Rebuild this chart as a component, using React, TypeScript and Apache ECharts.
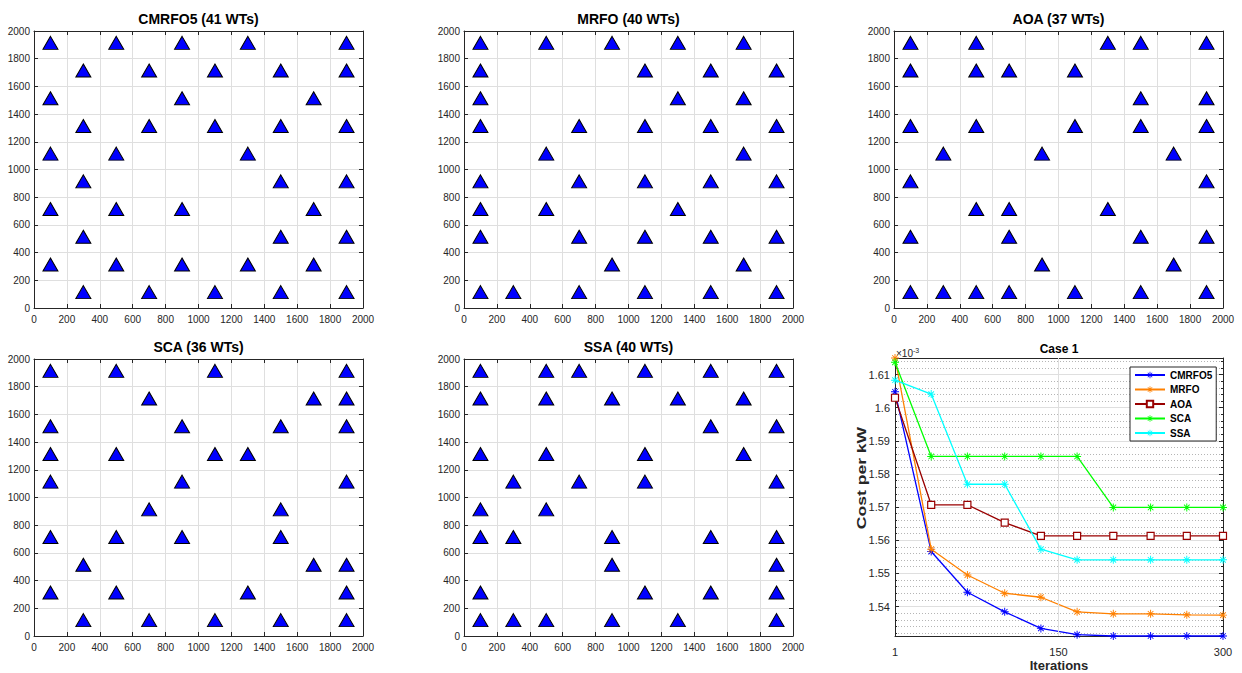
import React, { useEffect, useRef } from "react";
import * as echarts from "echarts";

// ---------- DATA ----------
const layoutTitles = ["CMRFO5 (41 WTs)", "MRFO (40 WTs)", "AOA (37 WTs)", "SCA (36 WTs)", "SSA (40 WTs)"];

const cmrfo5Layout: number[][] = [
  [100, 1900], [500, 1900], [900, 1900], [1300, 1900], [1900, 1900],
  [300, 1700], [700, 1700], [1100, 1700], [1500, 1700], [1900, 1700],
  [100, 1500], [900, 1500], [1700, 1500],
  [300, 1300], [700, 1300], [1100, 1300], [1500, 1300], [1900, 1300],
  [100, 1100], [500, 1100], [1300, 1100],
  [300, 900], [1500, 900], [1900, 900],
  [100, 700], [500, 700], [900, 700], [1700, 700],
  [300, 500], [1500, 500], [1900, 500],
  [100, 300], [500, 300], [900, 300], [1300, 300], [1700, 300],
  [300, 100], [700, 100], [1100, 100], [1500, 100], [1900, 100],
];

const mrfoLayout: number[][] = [
  [100, 1900], [500, 1900], [900, 1900], [1300, 1900], [1700, 1900],
  [100, 1700], [1100, 1700], [1500, 1700], [1900, 1700],
  [100, 1500], [1300, 1500], [1700, 1500],
  [100, 1300], [700, 1300], [1100, 1300], [1500, 1300], [1900, 1300],
  [500, 1100], [1700, 1100],
  [100, 900], [700, 900], [1100, 900], [1500, 900], [1900, 900],
  [100, 700], [500, 700], [1300, 700],
  [100, 500], [700, 500], [1100, 500], [1500, 500], [1900, 500],
  [900, 300], [1700, 300],
  [100, 100], [300, 100], [700, 100], [1100, 100], [1500, 100], [1900, 100],
];

const aoaLayout: number[][] = [
  [100, 1900], [500, 1900], [1300, 1900], [1500, 1900], [1900, 1900],
  [100, 1700], [500, 1700], [700, 1700], [1100, 1700],
  [1500, 1500], [1900, 1500],
  [100, 1300], [500, 1300], [1100, 1300], [1500, 1300], [1900, 1300],
  [300, 1100], [900, 1100], [1700, 1100],
  [100, 900], [1900, 900],
  [500, 700], [700, 700], [1300, 700],
  [100, 500], [700, 500], [1500, 500], [1900, 500],
  [900, 300], [1700, 300],
  [100, 100], [300, 100], [500, 100], [700, 100], [1100, 100], [1500, 100], [1900, 100],
];

const scaLayout: number[][] = [
  [100, 1900], [500, 1900], [1100, 1900], [1900, 1900],
  [700, 1700], [1700, 1700], [1900, 1700],
  [100, 1500], [900, 1500], [1500, 1500], [1900, 1500],
  [100, 1300], [500, 1300], [1100, 1300], [1300, 1300],
  [100, 1100], [900, 1100], [1900, 1100],
  [700, 900], [1500, 900],
  [100, 700], [500, 700], [900, 700], [1500, 700],
  [300, 500], [1700, 500], [1900, 500],
  [100, 300], [500, 300], [1300, 300], [1900, 300],
  [300, 100], [700, 100], [1100, 100], [1500, 100], [1900, 100],
];

const ssaLayout: number[][] = [
  [100, 1900], [500, 1900], [700, 1900], [1100, 1900], [1500, 1900], [1900, 1900],
  [100, 1700], [500, 1700], [900, 1700], [1300, 1700], [1700, 1700],
  [1500, 1500], [1900, 1500],
  [100, 1300], [500, 1300], [1100, 1300], [1700, 1300],
  [300, 1100], [700, 1100], [1100, 1100], [1900, 1100],
  [100, 900], [500, 900],
  [100, 700], [300, 700], [900, 700], [1500, 700], [1900, 700],
  [900, 500], [1900, 500],
  [100, 300], [1100, 300], [1500, 300], [1900, 300],
  [100, 100], [300, 100], [500, 100], [900, 100], [1300, 100], [1900, 100],
];

const layouts = [cmrfo5Layout, mrfoLayout, aoaLayout, scaLayout, ssaLayout];

const iterations = [1, 34, 67, 101, 134, 167, 200, 234, 267, 300];
const costCMRFO5 = [1.6048, 1.5566, 1.5443, 1.5384, 1.5334, 1.5315, 1.5311, 1.5311, 1.5311, 1.5311];
const costMRFO = [1.615, 1.5573, 1.5495, 1.544, 1.5428, 1.5384, 1.5378, 1.5378, 1.5375, 1.5374];
const costAOA = [1.603, 1.5707, 1.5707, 1.5653, 1.5613, 1.5613, 1.5613, 1.5613, 1.5613, 1.5613];
const costSCA = [1.6137, 1.5853, 1.5853, 1.5853, 1.5853, 1.5853, 1.5699, 1.5699, 1.5699, 1.5699];
const costSSA = [1.6083, 1.6041, 1.5769, 1.5769, 1.5573, 1.5541, 1.5541, 1.5541, 1.5541, 1.5541];
const algorithmNames = ["CMRFO5", "MRFO", "AOA", "SCA", "SSA"];
const iterationTicks = [1, 150, 300];

// ---------- STYLE / LAYOUT ----------
const FONT = "'Liberation Sans', Arial, Helvetica, sans-serif";
const AX = "#262626";
const GRIDC = "#dfdfdf";
const panelPos = [
  { left: 34, top: 31 },
  { left: 464, top: 31 },
  { left: 894, top: 31 },
  { left: 34, top: 359 },
  { left: 464, top: 359 },
];
const PW = 329;
const PH = 277;
const linePos = { left: 895, top: 358, width: 328, height: 278 };
const lineColors = ["#0000ff", "#ff8000", "#990000", "#00ff00", "#00ffff"];
const ASTERISK =
  "path://M0,4.4L10,4.4L10,5.6L0,5.6Z M4.4,0L5.6,0L5.6,10L4.4,10Z M1.1,1.9L1.9,1.1L8.9,8.1L8.1,8.9Z M8.1,1.1L8.9,1.9L1.9,8.9L1.1,8.1Z";

const plain = (v: number) => String(v);

export default function App() {
  const ref = useRef<HTMLDivElement>(null);
  useEffect(() => {
    if (!ref.current) return;
    const chart = echarts.init(ref.current, null, { renderer: "svg" });

    const grids: any[] = [];
    const xAxes: any[] = [];
    const yAxes: any[] = [];
    const series: any[] = [];
    const graphics: any[] = [];

    const tickStyle = { show: true, inside: true, length: 4, lineStyle: { color: AX, width: 1 } };
    const lineStyleAx = { show: true, onZero: false, lineStyle: { color: AX, width: 1 } };

    layouts.forEach((pts, i) => {
      const p = panelPos[i];
      grids.push({ left: p.left, top: p.top, width: PW, height: PH, containLabel: false });
      const base = { type: "value", gridIndex: i, min: 0, max: 2000, interval: 200 };
      xAxes.push({
        ...base,
        position: "bottom",
        axisLine: lineStyleAx,
        axisTick: tickStyle,
        axisLabel: { color: AX, fontSize: 10, fontFamily: FONT, margin: 6, formatter: plain },
        splitLine: { show: true, lineStyle: { color: GRIDC, width: 1 } },
      });
      xAxes.push({
        ...base,
        position: "top",
        axisLine: lineStyleAx,
        axisTick: tickStyle,
        axisLabel: { show: false },
        splitLine: { show: false },
      });
      yAxes.push({
        ...base,
        position: "left",
        axisLine: lineStyleAx,
        axisTick: tickStyle,
        axisLabel: { color: AX, fontSize: 10, fontFamily: FONT, margin: 4, formatter: plain },
        splitLine: { show: true, lineStyle: { color: GRIDC, width: 1 } },
      });
      yAxes.push({
        ...base,
        position: "right",
        axisLine: lineStyleAx,
        axisTick: tickStyle,
        axisLabel: { show: false },
        splitLine: { show: false },
      });
      series.push({
        type: "scatter",
        xAxisIndex: 2 * i,
        yAxisIndex: 2 * i,
        symbol: "triangle",
        symbolSize: [15, 13],
        symbolOffset: [0, -2],
        itemStyle: { color: "#0000ff", borderColor: "#000000", borderWidth: 1, opacity: 1 },
        data: pts,
        silent: true,
      });
      graphics.push({
        type: "text",
        x: p.left + PW / 2,
        y: p.top - 12,
        style: {
          text: layoutTitles[i],
          fontFamily: FONT,
          fontSize: 14,
          fontWeight: "bold",
          fill: "#000",
          align: "center",
          verticalAlign: "middle",
        },
      });
    });

    // ---- convergence plot ----
    const gi = 5;
    grids.push({ ...linePos, containLabel: false });
    const lx = { type: "value", gridIndex: gi, min: 1, max: 300 };
    xAxes.push({
      ...lx,
      position: "bottom",
      axisLine: lineStyleAx,
      axisTick: { ...tickStyle, customValues: iterationTicks },
      axisLabel: { color: AX, fontSize: 11, fontFamily: FONT, margin: 10, customValues: iterationTicks },
      splitLine: { show: false },
    });
    xAxes.push({
      ...lx,
      position: "top",
      axisLine: lineStyleAx,
      axisTick: { ...tickStyle, customValues: iterationTicks },
      axisLabel: { show: false },
      splitLine: { show: false },
    });
    const ly = { type: "value", gridIndex: gi, min: 1.5311, max: 1.615, splitNumber: 8 };
    yAxes.push({
      ...ly,
      position: "left",
      axisLine: lineStyleAx,
      axisTick: tickStyle,
      minorTick: { show: true, splitNumber: 5, length: 2, lineStyle: { color: AX } },
      axisLabel: { color: AX, fontSize: 11, fontFamily: FONT, margin: 5, showMinLabel: false, showMaxLabel: false },
      splitLine: { show: true, lineStyle: { color: GRIDC, width: 1 } },
      minorSplitLine: { show: true, lineStyle: { color: "#b5b5b5", width: 1, type: [1, 2] } },
    });
    yAxes.push({
      ...ly,
      position: "right",
      axisLine: lineStyleAx,
      axisTick: tickStyle,
      minorTick: { show: true, splitNumber: 5, length: 2, lineStyle: { color: AX } },
      axisLabel: { show: false },
      splitLine: { show: false },
    });

    // grid line at iteration 150 (under the curves)
    series.push({
      type: "line",
      name: "_grid",
      xAxisIndex: 10,
      yAxisIndex: 10,
      data: [],
      z: 1,
      silent: true,
      markLine: {
        silent: true,
        symbol: ["none", "none"],
        label: { show: false },
        lineStyle: { color: GRIDC, width: 1, type: "solid" },
        data: [{ xAxis: iterationTicks[1] }],
      },
    });

    const costs = [costCMRFO5, costMRFO, costAOA, costSCA, costSSA];
    costs.forEach((c, k) => {
      const isAOA = algorithmNames[k] === "AOA";
      series.push({
        type: "line",
        name: algorithmNames[k],
        xAxisIndex: 10,
        yAxisIndex: 10,
        color: lineColors[k],
        data: iterations.map((it, j) => [it, c[j]]),
        symbol: isAOA ? "rect" : ASTERISK,
        symbolSize: isAOA ? 7 : 8,
        showAllSymbol: true,
        lineStyle: { color: lineColors[k], width: 1.3 },
        itemStyle: isAOA
          ? { color: "#ffffff", borderColor: lineColors[k], borderWidth: 1.2 }
          : { color: lineColors[k] },
        z: 3 + k,
        clip: false,
      });
    });

    graphics.push(
      {
        type: "text",
        x: linePos.left + linePos.width / 2,
        y: 349,
        style: { text: "Case 1", fontFamily: FONT, fontSize: 12, fontWeight: "bold", fill: "#000", align: "center", verticalAlign: "middle" },
      },
      {
        type: "text",
        x: linePos.left + linePos.width / 2,
        y: 665,
        style: { text: "Iterations", fontFamily: FONT, fontSize: 13, fontWeight: "bold", fill: "#262626", align: "center", verticalAlign: "middle" },
      },
      {
        type: "text",
        x: 861,
        y: 478,
        rotation: Math.PI / 2,
        scaleX: 1.35,
        style: { text: "Cost per kW", fontFamily: FONT, fontSize: 13, fontWeight: "bold", fill: "#262626", align: "center", verticalAlign: "middle" },
      },
      {
        type: "text",
        x: 896,
        y: 353,
        style: {
          text: "{a|×10}{b|-3}",
          verticalAlign: "middle",
          align: "left",
          rich: {
            a: { fontFamily: FONT, fontSize: 10, fill: AX, color: AX },
            b: { fontFamily: FONT, fontSize: 7, fill: AX, color: AX, verticalAlign: "top", padding: [0, 0, 6, 0] },
          },
        },
      }
    );

    chart.setOption({
      animation: false,
      backgroundColor: "#ffffff",
      grid: grids,
      xAxis: xAxes,
      yAxis: yAxes,
      series,
      graphic: graphics,
      legend: {
        data: algorithmNames,
        orient: "vertical",
        left: 1130,
        top: 367,
        itemWidth: 30,
        itemHeight: 8,
        itemGap: 4.5,
        padding: [3, 4, 3, 4],
        borderColor: AX,
        borderWidth: 1,
        backgroundColor: "#ffffff",
        selectedMode: false,
        textStyle: { fontFamily: FONT, fontSize: 10, fontWeight: "bold", color: "#000" },
      },
    });
    return () => chart.dispose();
  }, []);
  return <div ref={ref} style={{ position: "absolute", left: 0, top: 0, width: 1242, height: 673 }} />;
}
